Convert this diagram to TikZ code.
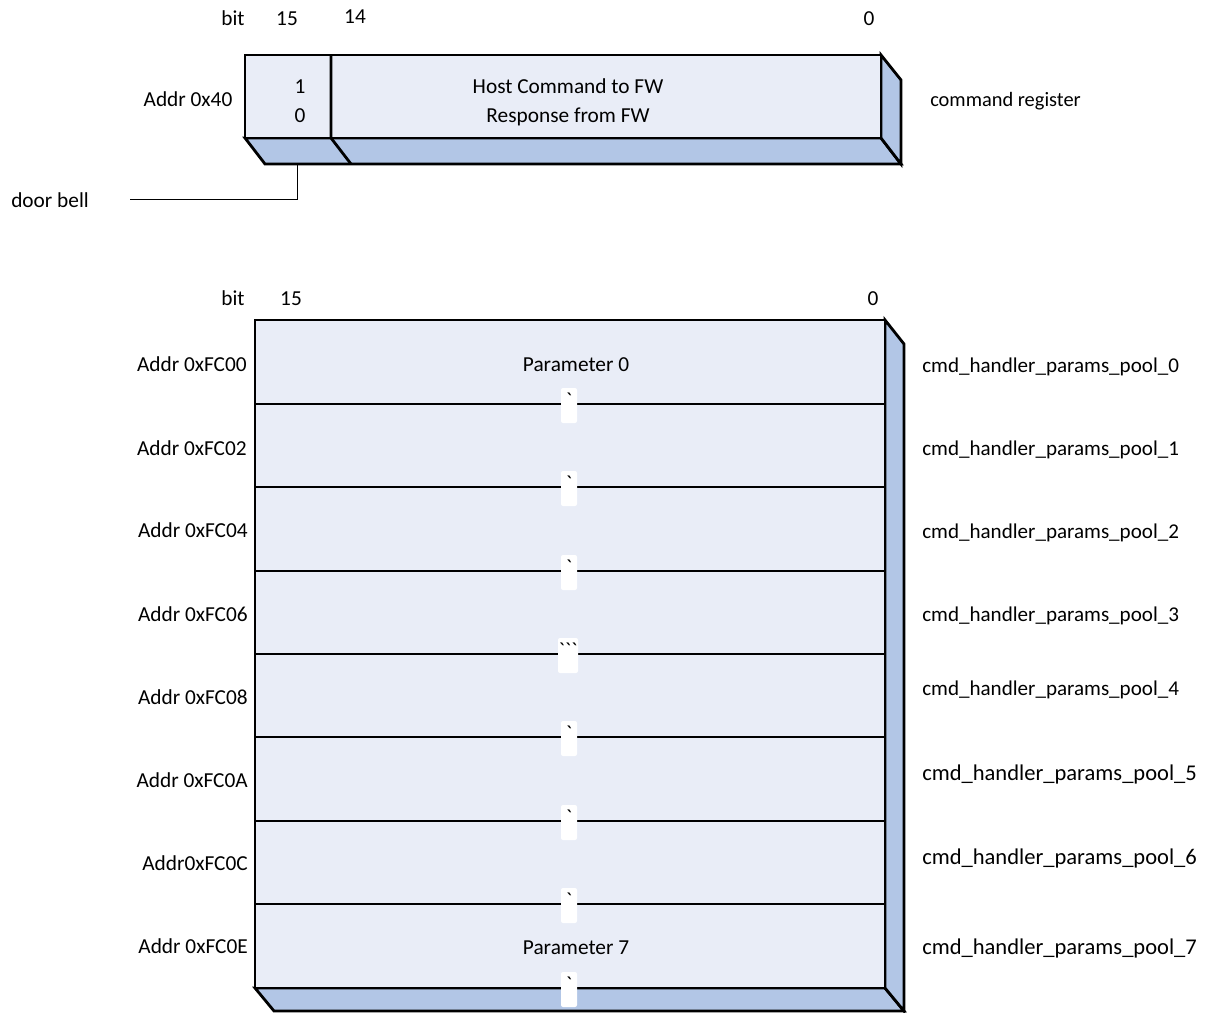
\documentclass[tikz,border=0pt]{standalone}
\usepackage{fontspec}
\setmainfont{Carlito}
\newfontfamily\tickfont{Carlito}[Ligatures=TeXOff]
\definecolor{facec}{RGB}{233,237,247}
\definecolor{sidec}{RGB}{178,198,230}
\begin{document}
\begin{tikzpicture}[x=0.75pt,y=-0.75pt,
  face/.style={fill=facec,draw=black,line width=2.1pt,line join=miter},
  sideface/.style={fill=sidec,draw=black,line width=2.1pt,line join=miter},
  rowline/.style={draw=black,line width=2.1pt},
  lbl/.style={font=\fontsize{16}{19}\selectfont,inner sep=0pt,anchor=mid,yshift=-2.2pt},
  lblr/.style={lbl,anchor=mid east},
  lbll/.style={font=\fontsize{15.8}{19}\selectfont,inner sep=0pt,anchor=mid west,yshift=-2.2pt},
  lblL/.style={font=\fontsize{16.9}{20}\selectfont,inner sep=0pt,anchor=mid west,yshift=-2.2pt},
  tickbox/.style={fill=white,draw=none,rounded corners=1.5pt,inner sep=0pt,
    minimum width=12pt,text height=14.25pt,text depth=12pt,anchor=base,
    font=\tickfont\fontsize{16}{19}\selectfont},
  thinline/.style={draw=black,line width=0.75pt}]
\useasboundingbox (0,0) rectangle (1210,1013);

% ---------- top register ----------
\filldraw[sideface] (245,138)--(881,138)--(901,164)--(265,164)--cycle;
\filldraw[sideface] (881,55)--(901,80)--(901,164)--(881,138)--cycle;
\filldraw[face] (245,55) rectangle (881,138);
\draw[rowline] (331,55)--(331,138)--(351,164);

\node[lbl] (bitA) at (233,19) {bit};
\node[lbl] (b15A) at (287,19) {15};
\node[lbl] (b14A) at (355,17) {14};
\node[lbl] (b0A) at (869,19) {0};
\node[lbl] (addr40) at (188,100) {Addr 0x40};
\node[lbl] (one) at (300,87) {1};
\node[lbl] (zero) at (300,116) {0};
\node[lbl] (hostcmd) at (568,87) {Host Command to FW};
\node[lbl] (resp) at (568,116) {Response from FW};
\node[lbl,anchor=mid west,font=\fontsize{15.3}{19}\selectfont] (cmdreg) at (930,100) {command register};

\coordinate (dbtop) at (297,164);
\coordinate (dbend) at (130,200);
\draw[thinline] (dbtop) |- (dbend);
\node[lbl,anchor=mid west] (doorbell) at (11,201) {door bell};

% ---------- parameter pool ----------
\filldraw[sideface] (255,988)--(885,988)--(904,1011)--(274,1011)--cycle;
\filldraw[sideface] (885,320)--(904,344)--(904,1011)--(885,988)--cycle;
\filldraw[face] (255,320) rectangle (885,988);
\foreach \yy in {404,487,571,654,737,821,904}
  \draw[rowline] (255,\yy)--(885,\yy);

\node[tickbox] (t1) at (569,407) {\symbol{96}};
\node[tickbox] (t2) at (569,490) {\symbol{96}};
\node[tickbox] (t3) at (569,574) {\symbol{96}};
\node[tickbox,minimum width=15pt] (t4) at (568,657) {\symbol{96}\symbol{96}\symbol{96}};
\node[tickbox] (t5) at (569,740) {\symbol{96}};
\node[tickbox] (t6) at (569,824) {\symbol{96}};
\node[tickbox] (t7) at (569,907) {\symbol{96}};
\node[tickbox] (t8) at (569,991) {\symbol{96}};

\node[lbl] (bitB) at (233,299) {bit};
\node[lbl] (b15B) at (291,299) {15};
\node[lbl] (b0B) at (873,299) {0};

\node[lbl] (p0) at (576,365) {Parameter 0};
\node[lbl] (p7) at (576,948) {Parameter 7};

\node[lblr] (a0) at (247,365) {Addr 0xFC00};
\node[lblr] (a1) at (247,449) {Addr 0xFC02};
\node[lblr] (a2) at (248,531) {Addr 0xFC04};
\node[lblr] (a3) at (248,615) {Addr 0xFC06};
\node[lblr] (a4) at (248,698) {Addr 0xFC08};
\node[lblr] (a5) at (248,781) {Addr 0xFC0A};
\node[lblr] (a6) at (248,864) {Addr0xFC0C};
\node[lblr] (a7) at (248,947) {Addr 0xFC0E};

\node[lbll] (r0) at (922,366) {cmd\_handler\_params\_pool\_0};
\node[lbll] (r1) at (922,449) {cmd\_handler\_params\_pool\_1};
\node[lbll] (r2) at (922,532) {cmd\_handler\_params\_pool\_2};
\node[lbll] (r3) at (922,615) {cmd\_handler\_params\_pool\_3};
\node[lbll] (r4) at (922,689) {cmd\_handler\_params\_pool\_4};
\node[lblL] (r5) at (922,774) {cmd\_handler\_params\_pool\_5};
\node[lblL] (r6) at (922,858) {cmd\_handler\_params\_pool\_6};
\node[lblL] (r7) at (922,948) {cmd\_handler\_params\_pool\_7};
\end{tikzpicture}
\end{document}
